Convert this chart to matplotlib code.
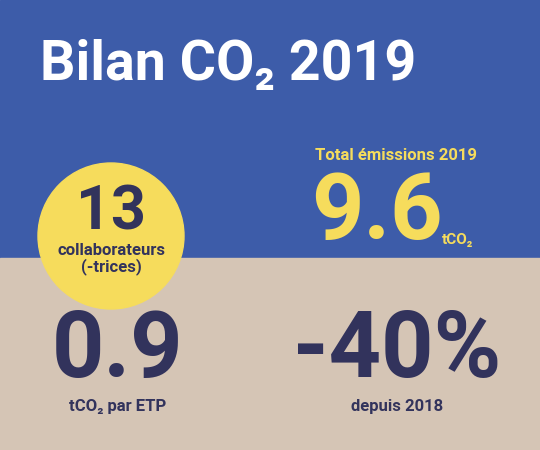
import matplotlib.pyplot as plt
from matplotlib.patches import Rectangle, Circle

title = "Bilan CO₂ 2019"
headcount = "13"
headcount_label = "collaborateurs\n(-trices)"
total_label = "Total émissions 2019"
total_value = "9.6"
total_unit = "tCO₂"
per_fte_value = "0.9"
per_fte_label = "tCO₂ par ETP"
change_value = "-40%"
change_label = "depuis 2018"

blue = "#3d5ca9"
beige = "#d5c5b5"
yellow = "#f6dc5c"
navy = "#32335c"
fam = ['Roboto', 'DejaVu Sans']

fig = plt.figure(figsize=(5.4, 4.5), dpi=100)
ax = fig.add_axes([0, 0, 1, 1])
ax.set_xlim(0, 540)
ax.set_ylim(450, 0)
ax.axis('off')

ax.add_patch(Rectangle((0, 0), 540, 258, color=blue, zorder=0))
ax.add_patch(Rectangle((0, 258), 540, 192, color=beige, zorder=0))
ax.add_patch(Circle((111, 236), 73, color=yellow, zorder=1))

ax.text(40, 65, title, color='white', fontsize=40, fontweight='bold', family=fam, va='center')

ax.text(111, 213, headcount, color=navy, fontsize=44, fontweight='bold', family=fam, ha='center', va='center', zorder=2)
ax.text(111, 259, headcount_label, color=navy, fontsize=12, fontweight='bold', family=fam, ha='center', va='center', linespacing=1.0, zorder=2)

ax.text(396, 156, total_label, color=yellow, fontsize=12, fontweight='bold', family=fam, ha='center', va='center')
ax.text(377, 213, total_value, color=yellow, fontsize=66, fontweight='bold', family=fam, ha='center', va='center')
ax.text(442, 240, total_unit, color=yellow, fontsize=11, fontweight='bold', family=fam, ha='left', va='center')

ax.text(118, 352, per_fte_value, color=navy, fontsize=66, fontweight='bold', family=fam, ha='center', va='center')
ax.text(118, 407, per_fte_label, color=navy, fontsize=12, fontweight='bold', family=fam, ha='center', va='center')

ax.text(397, 352, change_value, color=navy, fontsize=66, fontweight='bold', family=fam, ha='center', va='center')
ax.text(397, 407, change_label, color=navy, fontsize=12, fontweight='bold', family=fam, ha='center', va='center')

fig.savefig('out.png', dpi=100)
